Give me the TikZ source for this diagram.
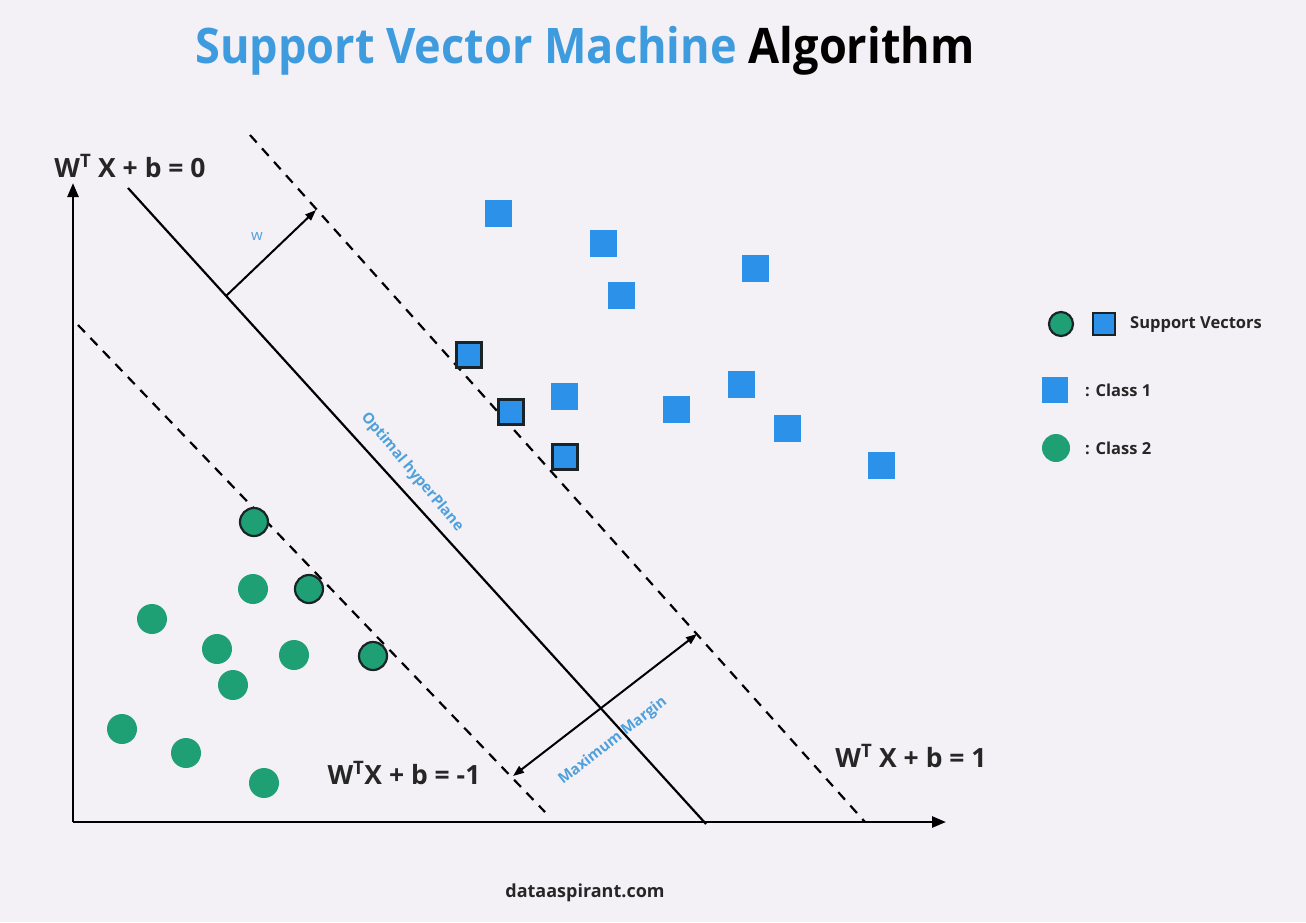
\documentclass[tikz,border=0pt]{standalone}
\usepackage{fontspec}
\setmainfont{Open Sans}
\usetikzlibrary{arrows.meta}
\definecolor{bgcol}{RGB}{243,241,245}
\definecolor{titleblue}{RGB}{62,155,222}
\definecolor{sqblue}{RGB}{44,145,232}
\definecolor{dotgreen}{RGB}{31,160,116}
\definecolor{labelblue}{RGB}{80,160,220}
\definecolor{edgecol}{RGB}{25,35,40}
\begin{document}
\begin{tikzpicture}[x=1pt,y=-1pt,
  axis/.style={line width=2.6pt,-{Triangle[length=14pt,width=11pt]}},
  hyper/.style={line width=2.2pt},
  marginline/.style={line width=2.2pt,dash pattern=on 10pt off 8pt},
  vecarrow/.style={line width=2pt,-{Triangle[length=11pt,width=8pt]}},
  dblarrow/.style={line width=2pt,{Triangle[length=11pt,width=8pt]}-{Triangle[length=11pt,width=8pt]}},
  sq/.style={rectangle,fill=sqblue,minimum size=27pt,inner sep=0pt},
  sqsv/.style={sq,draw=edgecol,line width=2.2pt,minimum size=25pt},
  dot/.style={circle,fill=dotgreen,minimum size=30pt,inner sep=0pt},
  dotsv/.style={dot,draw=edgecol,line width=2.2pt,minimum size=28pt},
  eqn/.style={font=\bfseries\fontsize{26.5}{30}\selectfont,text=black!85,inner sep=0pt},
  legtext/.style={font=\bfseries\fontsize{16.5}{19}\selectfont,text=black!85,anchor=west,inner sep=0pt},
  bluelabel/.style={font=\bfseries\fontsize{15}{18}\selectfont,text=labelblue,inner sep=0pt}]

% canvas
\fill[bgcol] (0,0) rectangle (1306,922);
\useasboundingbox (0,0) rectangle (1306,922);

% title
\node[font=\bfseries\fontsize{49}{56}\selectfont,inner sep=0pt,xscale=0.92] (title) at (585,51)
  {\textcolor{titleblue}{Support Vector Machine} Algorithm};

% axes
\coordinate (origin) at (73,822);
\coordinate (ytip) at (73,183);
\coordinate (xtip) at (946,822);
\draw[axis] (origin) -- (ytip);
\draw[axis] (origin) -- (xtip);

% optimal hyperplane and margin boundaries
\coordinate (hTop) at (128,188);
\coordinate (hBot) at (706,824);
\coordinate (pTop) at (250,135);
\coordinate (pBot) at (865,822);
\coordinate (nTop) at (78,325);
\coordinate (nBot) at (545,812);
\draw[hyper] (hTop) -- (hBot);
\draw[marginline] (pTop) -- (pBot);
\draw[marginline] (nTop) -- (nBot);

% normal vector w
\coordinate (wFoot) at (226,296);
\coordinate (wHead) at (316,210);
\draw[vecarrow] (wFoot) -- (wHead);
\node[bluelabel,font=\fontsize{15}{18}\selectfont] (wlab) at (257,236) {w};

% maximum margin
\coordinate (mLow) at (513,776);
\coordinate (mHigh) at (697,634);
\draw[dblarrow] (mLow) -- (mHigh);
\node[bluelabel,rotate=38] (mlab) at (613,741) {Maximum Margin};
\node[bluelabel,rotate=-50] (hlab) at (412,472) {Optimal hyperPlane};

% equations
\node[eqn] (eq0) at (130,166) {W\textsuperscript{T} X + b = 0};
\node[eqn] (eqm) at (404,773) {W\textsuperscript{T}X + b = -1};
\node[eqn] (eqp) at (911,756) {W\textsuperscript{T} X + b = 1};

% class 1
\node[sq] (s1) at (498,213) {};
\node[sq] (s2) at (603,243) {};
\node[sq] (s3) at (755,268) {};
\node[sq] (s4) at (621,295) {};
\node[sq] (s5) at (564,396) {};
\node[sq] (s6) at (676,409) {};
\node[sq] (s7) at (741,384) {};
\node[sq] (s8) at (787,428) {};
\node[sq] (s9) at (881,465) {};
\node[sqsv] (sv1) at (469,355) {};
\node[sqsv] (sv2) at (511,412) {};
\node[sqsv] (sv3) at (565,457) {};

% class 2
\node[dot] (c1) at (253,589) {};
\node[dot] (c2) at (152,619) {};
\node[dot] (c3) at (217,649) {};
\node[dot] (c4) at (294,655) {};
\node[dot] (c5) at (233,685) {};
\node[dot] (c6) at (122,729) {};
\node[dot] (c7) at (186,753) {};
\node[dot] (c8) at (264,783) {};
\node[dotsv] (cv1) at (254,522) {};
\node[dotsv] (cv2) at (309,589) {};
\node[dotsv] (cv3) at (373,656) {};

% legend
\node[dotsv,minimum size=24pt] (lgc) at (1061,324) {};
\node[sqsv,minimum size=22pt] (lgs) at (1104,324) {};
\node[legtext] (lgt) at (1130,324) {Support Vectors};
\node[sq,minimum size=26pt] (lg1) at (1055,390) {};
\node[legtext] (lgt1) at (1085,390) {: Class 1};
\node[dot,minimum size=28pt] (lg2) at (1056,448) {};
\node[legtext] (lgt2) at (1085,448) {: Class 2};

% source
\node[font=\bfseries\fontsize{18}{21}\selectfont,text=black!85,inner sep=0pt] (src) at (585,893) {dataaspirant.com};
\end{tikzpicture}
\end{document}
